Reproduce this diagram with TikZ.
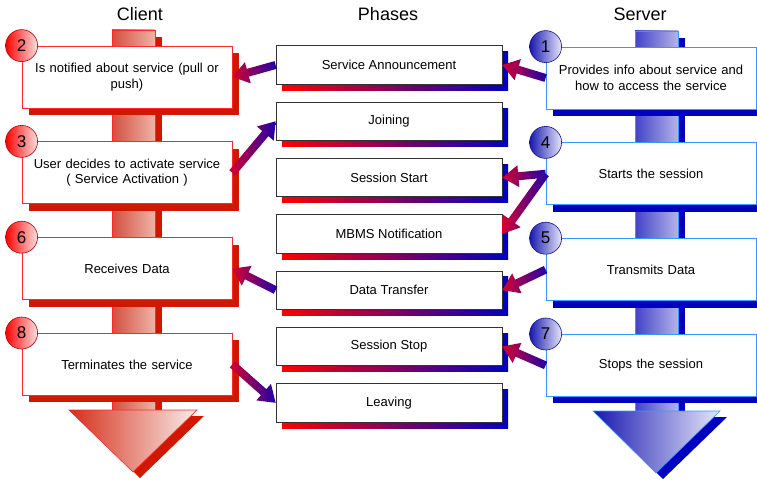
\documentclass[tikz,border=0pt]{standalone}
\usepackage{fontspec}
\setmainfont{Liberation Sans}
\usetikzlibrary{positioning,calc,shadows}

\definecolor{cshadow}{RGB}{208,24,0}
\definecolor{cborder}{RGB}{255,40,40}
\definecolor{ctrunkl}{RGB}{212,78,62}
\definecolor{ctrunkr}{RGB}{238,180,166}
\definecolor{cheadr}{RGB}{250,236,234}
\definecolor{sshadow}{RGB}{0,0,192}
\definecolor{sborder}{RGB}{51,153,255}
\definecolor{strunkl}{RGB}{66,66,200}
\definecolor{strunkr}{RGB}{180,180,234}
\definecolor{sheadl}{RGB}{24,24,176}
\definecolor{sheadr}{RGB}{230,230,250}
\definecolor{arrred}{RGB}{214,0,48}
\definecolor{arrblue}{RGB}{30,0,170}

\newcommand{\fatarrow}[2]{%
  \coordinate (fq) at ($(#2)!16pt!(#1)$);
  \path[fatarr] ($(#1)!4pt!90:(#2)$) -- ($(fq)!4pt!90:(#2)$) -- ($(fq)!11pt!90:(#2)$)
    -- (#2) -- ($(fq)!11pt!-90:(#2)$) -- ($(fq)!4pt!-90:(#2)$) -- ($(#1)!4pt!-90:(#2)$) -- cycle;}

\begin{document}
\begin{tikzpicture}[
    x=1pt, y=-1pt,
    font=\fontsize{13}{15.5}\selectfont,
    title/.style={font=\fontsize{18}{20}\selectfont},
    cbox/.style={rectangle, draw=cborder, line width=0.8pt, fill=white,
      minimum width=210pt, minimum height=62pt, inner xsep=2pt, text width=205pt, align=center,
      general shadow={fill=cshadow, shadow xshift=7pt, shadow yshift=-7pt}},
    sbox/.style={cbox, draw=sborder,
      general shadow={fill=sshadow, shadow xshift=7pt, shadow yshift=-7pt}},
    phase/.style={rectangle, draw=black!80, line width=0.8pt, fill=white,
      minimum width=226pt, minimum height=38.5pt,
      general shadow={left color=red, right color=sshadow, shadow xshift=6pt, shadow yshift=-6pt}},
    cnum/.style={circle, draw=red!70!black, line width=0.6pt, minimum size=32pt, inner sep=0pt,
      left color=red, right color=red!12, font=\fontsize{17}{17}\selectfont},
    snum/.style={cnum, draw=sheadl!80!black, left color=sheadl, right color=sheadr},
    fatarr/.style={left color=arrred, right color=arrblue}
]
\useasboundingbox (0,0) rectangle (757,481);

% titles
\node[title] (tclient) at (140,14) {Client};
\node[title] (tphases) at (388,14) {Phases};
\node[title] (tserver) at (640,14) {Server};

% client trunk
\fill[cshadow] (155,37) rectangle (162,416);
\shade[left color=ctrunkl, right color=ctrunkr, draw=cborder, line width=0.6pt] (112,30) rectangle (155,410);
\fill[cshadow] (76,416) -- (204,416) -- (140,478) -- cycle;
\shade[left color=cshadow!90, right color=cheadr, draw=cborder, line width=0.6pt] (69,410) -- (197,410) -- (133,472) -- cycle;

% server trunk
\fill[sshadow] (678,38) rectangle (685,417);
\shade[left color=strunkl, right color=strunkr, draw=sborder, line width=0.6pt] (635,31) rectangle (678,411);
\fill[sshadow] (600,417) -- (727,417) -- (663,479) -- cycle;
\shade[left color=sheadl, right color=sheadr, draw=sborder, line width=0.6pt] (593,411) -- (720,411) -- (656,473) -- cycle;

% client
\node[cbox] (c2) at (127,77) {Is notified about service (pull or\\push)};
\node[cbox, below=33pt of c2] (c3) {User decides to activate service\\( Service Activation )};
\node[cbox, below=33pt of c3] (c6) {Receives Data};
\node[cbox, below=33pt of c6] (c8) {Terminates the service};

% phases
\node[phase] (sa) at (389,65) {Service Announcement};
\node[phase, below=17pt of sa] (jn) {Joining};
\node[phase, below=17pt of jn] (sst) {Session Start};
\node[phase, below=17pt of sst] (mb) {MBMS Notification};
\node[phase, below=17pt of mb] (dt) {Data Transfer};
\node[phase, below=17pt of dt] (ss) {Session Stop};
\node[phase, below=17pt of ss] (lv) {Leaving};

% server
\node[sbox] (s1) at (651,78) {Provides info about service and\\how to access the service};
\node[sbox, below=33pt of s1] (s4) {Starts the session};
\node[sbox, below=33pt of s4] (s5) {Transmits Data};
\node[sbox, below=33pt of s5] (s7) {Stops the session};

% step numbers
\node[cnum] (n2) at (c2.north west) {2};
\node[cnum] (n3) at (c3.north west) {3};
\node[cnum] (n6) at (c6.north west) {6};
\node[cnum] (n8) at (c8.north west) {8};
\node[snum] (n1) at (s1.north west) {1};
\node[snum] (n4) at (s4.north west) {4};
\node[snum] (n5) at (s5.north west) {5};
\node[snum] (n7) at (s7.north west) {7};

% messages
\fatarrow{sa.west}{c2.east}
\fatarrow{s1.west}{sa.east}
\fatarrow{c3.east}{jn.west}
\fatarrow{s4.west}{sst.east}
\fatarrow{s4.west}{mb.east}
\fatarrow{dt.west}{c6.east}
\fatarrow{s5.west}{dt.east}
\fatarrow{s7.west}{ss.east}
\fatarrow{c8.east}{lv.west}

\end{tikzpicture}
\end{document}
